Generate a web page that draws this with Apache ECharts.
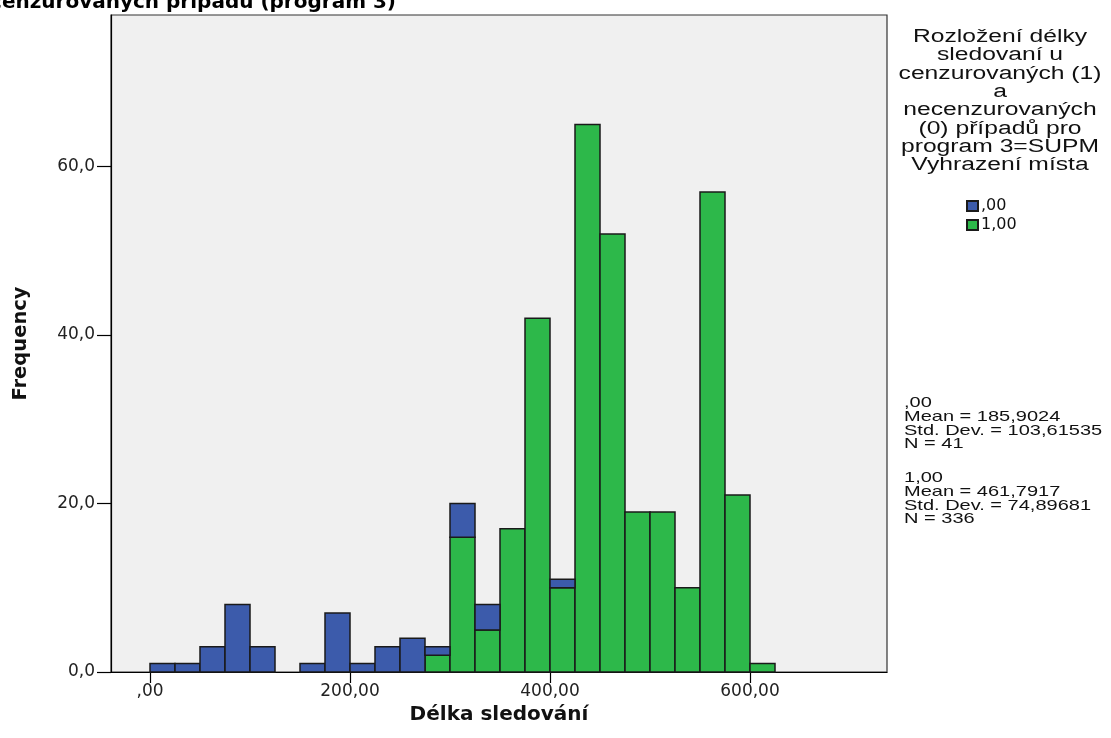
<!DOCTYPE html>
<html>
<head>
<meta charset="utf-8">
<script src="https://cdn.jsdelivr.net/npm/echarts@6/dist/echarts.min.js"></script>
<style>
html,body{margin:0;padding:0;background:#fff;}
#main{width:1111px;height:738px;}
</style>
</head>
<body>
<div id="main"></div>
<script>
// ---- data ----
var binStarts = [0,25,50,75,100,125,150,175,200,225,250,275,300,325,350,375,400,425,450,475,500,525,550,575,600];
var binWidth = 25;
var blueCounts  = [1,1,3,8,3,0,1,7,1,3,4,1,4,3,0,0,1,0,0,0,0,0,0,0,0];   // ,00
var greenCounts = [0,0,0,0,0,0,0,0,0,0,0,2,16,5,17,42,10,65,52,19,19,10,57,21,1]; // 1,00
var xTicks = [0,200,400,600];
var xTickLabels = [',00','200,00','400,00','600,00'];
var yTicks = [0,20,40,60];
var yTickLabels = ['0,0','20,0','40,0','60,0'];
var seriesNames = [',00','1,00'];
var titleText = 'necenzurovaných případů (program 3)';
var legendTitle = ['Rozložení délky','sledovaní u','cenzurovaných (1)','a','necenzurovaných','(0) případů pro','program 3=SUPM','Vyhrazení místa'];
var stats0 = [',00','Mean = 185,9024','Std. Dev. = 103,61535','N = 41'];
var stats1 = ['1,00','Mean = 461,7917','Std. Dev. = 74,89681','N = 336'];

// build stacked rectangles (green at bottom, blue on top)
var greenData = [], blueData = [];
for (var i = 0; i < binStarts.length; i++) {
  var s = binStarts[i], e = s + binWidth;
  if (greenCounts[i] > 0) greenData.push([s, e, 0, greenCounts[i]]);
  if (blueCounts[i] > 0) blueData.push([s, e, greenCounts[i], greenCounts[i] + blueCounts[i]]);
}

function renderItem(params, api) {
  var p0 = api.coord([api.value(0), api.value(3)]);
  var p1 = api.coord([api.value(1), api.value(2)]);
  return {
    type: 'rect',
    shape: {x: p0[0], y: p0[1], width: p1[0] - p0[0], height: p1[1] - p0[1]},
    style: api.style()
  };
}

var chart = echarts.init(document.getElementById('main'), null, {renderer: 'canvas'});
chart.setOption({
  animation: false,
  backgroundColor: '#ffffff',
  grid: {
    left: 111, right: 224, top: 15, bottom: 66,
    show: true, backgroundColor: '#f0f0f0', borderColor: '#333', borderWidth: 1.2
  },
  xAxis: {
    type: 'value', min: -39, max: 737,
    axisLine: {show: true, onZero: false, lineStyle: {color: '#000', width: 1.2}},
    axisTick: {show: true, customValues: xTicks, length: 11, lineStyle: {color: '#000', width: 1.2}},
    axisLabel: {
      customValues: xTicks, margin: 11, color: '#222',
      fontFamily: 'DejaVu Sans', fontSize: 17,
      formatter: function (v) { var k = xTicks.indexOf(v); return k >= 0 ? xTickLabels[k] : ''; }
    },
    splitLine: {show: false},
    name: 'Délka sledování', nameLocation: 'middle', nameGap: 22,
    nameTextStyle: {fontFamily: 'DejaVu Sans', fontWeight: 'bold', fontSize: 20, color: '#111'}
  },
  yAxis: {
    type: 'value', min: 0, max: 78,
    axisLine: {show: true, onZero: false, lineStyle: {color: '#000', width: 1.2}},
    axisTick: {show: true, customValues: yTicks, length: 14, lineStyle: {color: '#000', width: 1.2}},
    axisLabel: {
      customValues: yTicks, margin: 16, color: '#222',
      fontFamily: 'DejaVu Sans', fontSize: 17,
      formatter: function (v) { var k = yTicks.indexOf(v); return k >= 0 ? yTickLabels[k] : ''; }
    },
    splitLine: {show: false},
    name: 'Frequency', nameLocation: 'middle', nameGap: 80, nameRotate: 90,
    nameTextStyle: {fontFamily: 'DejaVu Sans', fontWeight: 'bold', fontSize: 19.5, color: '#111'}
  },
  legend: {
    data: seriesNames, orient: 'vertical', left: 966, top: 198,
    icon: 'rect', itemWidth: 11, itemHeight: 10, itemGap: 3, padding: 0,
    textStyle: {fontFamily: 'DejaVu Sans', fontSize: 16, color: '#111', padding: [0,0,0,-2]}
  },
  series: [
    {
      name: seriesNames[1], type: 'custom', renderItem: renderItem,
      encode: {x: [0, 1], y: [2, 3]},
      itemStyle: {color: '#2db84a', borderColor: '#1a1a1a', borderWidth: 1.5},
      data: greenData
    },
    {
      name: seriesNames[0], type: 'custom', renderItem: renderItem,
      encode: {x: [0, 1], y: [2, 3]},
      itemStyle: {color: '#3c5bab', borderColor: '#1a1a1a', borderWidth: 1.5},
      data: blueData
    }
  ],
  graphic: [
    {
      type: 'text', x: 396, y: 13,
      style: {text: titleText, font: 'bold 20px "DejaVu Sans"', fill: '#000', textAlign: 'right', textVerticalAlign: 'bottom'}
    },
    {
      type: 'text', x: 1000, y: 28, scaleX: 1.37,
      style: {text: legendTitle.join('\n'), fontFamily: 'Liberation Sans', fontSize: 18, lineHeight: 18.3,
              fill: '#111', textAlign: 'center', textVerticalAlign: 'top'}
    },
    {
      type: 'text', x: 904, y: 396, scaleX: 1.38,
      style: {text: stats0.join('\n'), fontFamily: 'Liberation Sans', fontSize: 14.5, lineHeight: 13.8,
              fill: '#111', textAlign: 'left', textVerticalAlign: 'top'}
    },
    {
      type: 'text', x: 904, y: 471, scaleX: 1.38,
      style: {text: stats1.join('\n'), fontFamily: 'Liberation Sans', fontSize: 14.5, lineHeight: 13.8,
              fill: '#111', textAlign: 'left', textVerticalAlign: 'top'}
    }
  ]
});
</script>
</body>
</html>
